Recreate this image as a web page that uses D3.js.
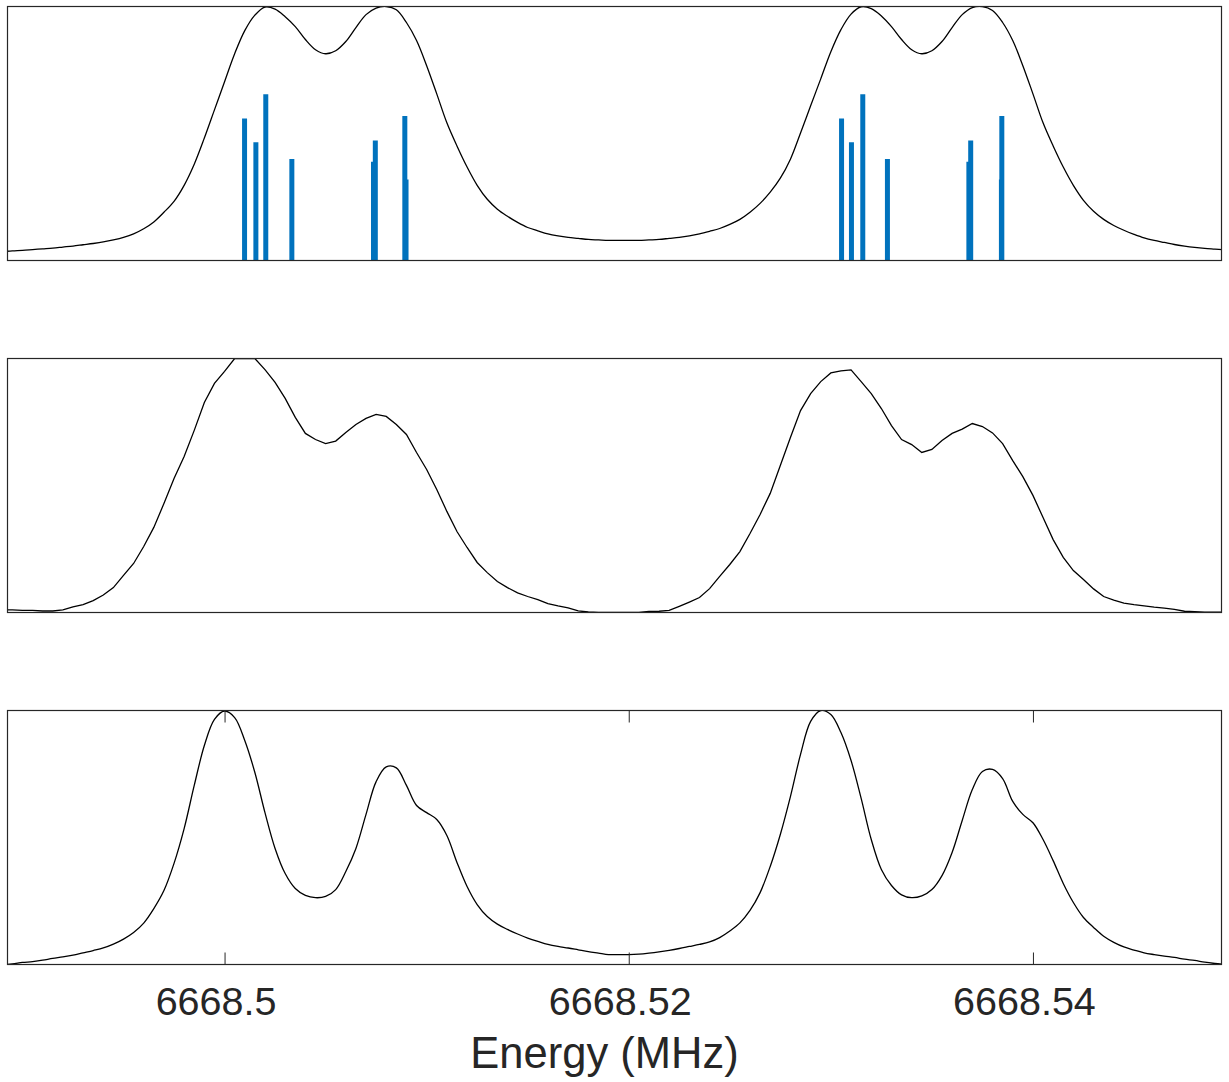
<!DOCTYPE html>
<html>
<head>
<meta charset="utf-8">
<script src="https://cdn.jsdelivr.net/npm/d3@7"></script>
<style>
  body { margin: 0; background: #fff; }
  text { font-family: "Liberation Sans", Arial, Helvetica, sans-serif; }
</style>
</head>
<body>
<svg id="chart" width="1229" height="1082"></svg>
<script>
// frequency samples (MHz), shared by the three spectra
var freqMHz = [
  6668.4890, 6668.4895, 6668.4900, 6668.4905, 6668.4910, 6668.4915, 6668.4920, 6668.4925, 6668.4930, 6668.4935,
  6668.4940, 6668.4945, 6668.4950, 6668.4955, 6668.4960, 6668.4965, 6668.4970, 6668.4975, 6668.4980, 6668.4985,
  6668.4990, 6668.4995, 6668.5000, 6668.5005, 6668.5010, 6668.5015, 6668.5020, 6668.5025, 6668.5030, 6668.5035,
  6668.5040, 6668.5045, 6668.5050, 6668.5055, 6668.5060, 6668.5065, 6668.5070, 6668.5075, 6668.5080, 6668.5085,
  6668.5090, 6668.5095, 6668.5100, 6668.5105, 6668.5110, 6668.5115, 6668.5120, 6668.5125, 6668.5130, 6668.5135,
  6668.5140, 6668.5145, 6668.5150, 6668.5155, 6668.5160, 6668.5165, 6668.5170, 6668.5175, 6668.5180, 6668.5185,
  6668.5190, 6668.5195, 6668.5200, 6668.5205, 6668.5210, 6668.5215, 6668.5220, 6668.5225, 6668.5230, 6668.5235,
  6668.5240, 6668.5245, 6668.5250, 6668.5255, 6668.5260, 6668.5265, 6668.5270, 6668.5275, 6668.5280, 6668.5285,
  6668.5290, 6668.5295, 6668.5300, 6668.5305, 6668.5310, 6668.5315, 6668.5320, 6668.5325, 6668.5330, 6668.5335,
  6668.5340, 6668.5345, 6668.5350, 6668.5355, 6668.5360, 6668.5365, 6668.5370, 6668.5375, 6668.5380, 6668.5385,
  6668.5390, 6668.5395, 6668.5400, 6668.5405, 6668.5410, 6668.5415, 6668.5420, 6668.5425, 6668.5430, 6668.5435,
  6668.5440, 6668.5445, 6668.5450, 6668.5455, 6668.5460, 6668.5465, 6668.5470, 6668.5475, 6668.5480, 6668.5485,
  6668.5490, 6668.5495
];

// top panel: modelled profile (relative intensity, %)
var modelSpectrum = [
  3.5, 3.8, 4.0, 4.3, 4.6, 4.9, 5.3, 5.7, 6.2, 6.7,
  7.3, 8.1, 9.1, 10.5, 12.5, 15.2, 19.0, 23.3, 29.6, 37.9,
  48.2, 59.3, 70.4, 81.4, 90.5, 96.6, 99.8, 99.0, 96.0, 92.1,
  87.0, 83.0, 81.4, 82.6, 86.2, 91.7, 96.8, 99.4, 100, 98.7,
  93.7, 86.6, 76.7, 65.6, 54.2, 45.1, 36.8, 29.6, 24.1, 20.2,
  17.4, 15.0, 13.0, 11.7, 10.5, 9.7, 9.1, 8.7, 8.3, 8.1,
  7.9, 7.9, 7.9, 7.9, 8.1, 8.3, 8.7, 9.1, 9.7, 10.5,
  11.5, 12.6, 14.2, 16.2, 19.0, 22.5, 26.9, 32.4, 39.9, 50.2,
  60.9, 71.5, 82.2, 90.9, 97.0, 99.9, 99.2, 96.3, 92.1, 87.0,
  83.0, 81.4, 82.6, 86.2, 91.7, 96.8, 99.6, 100, 98.4, 93.7,
  86.6, 76.7, 65.6, 54.2, 45.1, 36.8, 29.6, 23.7, 19.4, 16.2,
  13.8, 11.9, 10.3, 8.9, 7.9, 7.1, 6.3, 5.7, 5.2, 4.8,
  4.5, 4.2
];

// middle panel: measured profile
var measuredSpectrum = [
  1.0, 1.0, 0.8, 0.8, 0.6, 0.6, 1.0, 2.2, 3.1, 4.7,
  6.9, 9.8, 14.6, 19.3, 26.0, 33.5, 42.9, 52.8, 61.4, 71.7,
  82.7, 90.2, 94.9, 100, 100, 100, 95.6, 90.6, 84.3, 76.8,
  70.5, 68.1, 66.5, 67.5, 70.9, 74.0, 76.4, 78.0, 77.2, 74.0,
  70.1, 63.0, 56.3, 48.4, 39.8, 31.9, 25.6, 19.7, 15.7, 12.2,
  9.8, 7.7, 6.3, 5.1, 3.5, 2.6, 1.8, 0.6, 0.2, 0.0,
  0.0, 0.0, 0.0, 0.0, 0.4, 0.5, 0.8, 2.4, 4.1, 5.9,
  9.4, 14.2, 18.9, 24.0, 31.1, 38.6, 46.9, 57.9, 68.9, 79.5,
  86.2, 90.9, 94.3, 95.1, 95.5, 90.9, 86.2, 80.3, 73.6, 68.1,
  66.1, 63.0, 64.2, 67.7, 70.5, 72.2, 74.4, 73.2, 70.7, 66.5,
  59.8, 53.5, 46.1, 37.4, 28.7, 21.7, 16.5, 13.0, 9.3, 6.3,
  4.9, 3.7, 3.1, 2.6, 2.1, 1.7, 1.2, 0.5, 0.3, 0.1,
  0.1, 0.1
];

// bottom panel: fitted profile
var fittedSpectrum = [
  0.0, 0.2, 0.8, 1.1, 1.7, 2.4, 3.0, 3.7, 4.6, 5.5,
  6.5, 8.0, 10.0, 12.6, 16.3, 22.0, 29.1, 39.8, 53.5, 70.5,
  86.2, 96.5, 99.8, 97.2, 88.2, 75.6, 59.8, 45.7, 35.8, 29.9,
  27.2, 26.3, 26.8, 29.5, 36.6, 45.7, 59.1, 72.0, 77.8, 77.4,
  70.5, 62.6, 59.8, 57.1, 50.8, 40.2, 30.7, 23.6, 18.9, 15.9,
  13.8, 12.0, 10.4, 9.1, 7.9, 7.1, 6.5, 5.8, 5.1, 4.5,
  3.9, 3.9, 3.9, 4.1, 4.5, 5.0, 5.6, 6.3, 7.1, 7.9,
  8.9, 10.6, 13.2, 16.4, 21.3, 28.3, 38.6, 51.2, 66.1, 82.7,
  95.7, 100, 98.4, 91.3, 80.3, 65.4, 49.2, 37.4, 31.1, 27.4,
  26.3, 27.0, 29.5, 35.0, 44.1, 56.7, 68.9, 76.0, 76.8, 73.2,
  64.2, 59.1, 55.8, 49.2, 40.9, 31.9, 24.4, 18.5, 14.6, 11.1,
  8.7, 6.9, 5.7, 4.6, 3.9, 3.3, 2.8, 2.1, 1.6, 0.9,
  0.4, 0.0
];

// hyperfine components (stick spectrum in the top panel)
var stickFreq = [
  6668.50099, 6668.50155, 6668.50204, 6668.50333, 6668.50737, 6668.50746, 6668.50892, 6668.50898,
  6668.53053, 6668.53102, 6668.53158, 6668.53280, 6668.53683, 6668.53692, 6668.53846, 6668.53844
];
var stickHeight = [
  55.9, 46.6, 65.5, 40.0, 38.9, 47.2, 56.9, 31.9,
  55.9, 46.6, 65.5, 40.0, 38.9, 47.2, 56.9, 31.9
];

var tickValues = [6668.5, 6668.52, 6668.54];
var tickLabels = ["6668.5", "6668.52", "6668.54"];
var xLabel = "Energy (MHz)";
var xDomain = [6668.48926, 6668.54933];

main();

function main() {
    var svg = d3.select("#chart");
    var left = 7.5, right = 1221.5, panelH = 254;
    var panelTops = [6.5, 358.5, 710.5];
    var axisColor = "#262626";

    var x = d3.scaleLinear().domain(xDomain).range([left, right]);

    var panels = [
        { values: modelSpectrum, curve: d3.curveCatmullRom.alpha(0.5) },
        { values: measuredSpectrum, curve: d3.curveLinear },
        { values: fittedSpectrum, curve: d3.curveCatmullRom.alpha(0.5) }
    ];

    panels.forEach(function(p, i) {
        var top = panelTops[i];
        var y = d3.scaleLinear().domain([0, 100]).range([top + panelH, top]);
        var g = svg.append("g");

        g.append("clipPath").attr("id", "clip" + i)
            .append("rect")
            .attr("x", left).attr("y", top)
            .attr("width", right - left).attr("height", panelH);

        var plot = g.append("g").attr("clip-path", "url(#clip" + i + ")");

        //sticks only in the top panel
        if (i === 0) {
            plot.selectAll("line.stick")
                .data(stickFreq)
                .enter().append("line")
                .attr("class", "stick")
                .attr("x1", function(d) { return x(d); })
                .attr("x2", function(d) { return x(d); })
                .attr("y1", y(0))
                .attr("y2", function(d, j) { return y(stickHeight[j]); })
                .attr("stroke", "#0072BD")
                .attr("stroke-width", 5);
        }

        var line = d3.line()
            .x(function(d, j) { return x(freqMHz[j]); })
            .y(function(d) { return y(d); })
            .curve(p.curve);

        plot.append("path")
            .datum(p.values)
            .attr("d", line)
            .attr("fill", "none")
            .attr("stroke", "#000")
            .attr("stroke-width", 1.3);

        // ticks only on the bottom panel
        if (i === 2) {
            var bottomAxis = d3.axisBottom(x)
                .tickValues(tickValues)
                .tickFormat(function(d, j) { return tickLabels[j]; })
                .tickSizeInner(-12)
                .tickSizeOuter(0)
                .tickPadding(22);
            var ga = g.append("g")
                .attr("transform", "translate(0," + (top + panelH) + ")")
                .call(bottomAxis);
            ga.select(".domain").remove();
            ga.selectAll("line").attr("stroke", axisColor);
            ga.selectAll("text")
                .attr("fill", axisColor)
                .attr("dx", -9)
                .style("font-size", "39.5px");

            var topAxis = d3.axisTop(x)
                .tickValues(tickValues)
                .tickFormat("")
                .tickSizeInner(-12)
                .tickSizeOuter(0);
            var gt = g.append("g")
                .attr("transform", "translate(0," + top + ")")
                .call(topAxis);
            gt.select(".domain").remove();
            gt.selectAll("line").attr("stroke", axisColor);
        }

        g.append("rect")
            .attr("x", left).attr("y", top)
            .attr("width", right - left).attr("height", panelH)
            .attr("fill", "none")
            .attr("stroke", axisColor)
            .attr("stroke-width", 1.2);
    });

    svg.append("text")
        .attr("x", (left + right) / 2 - 10)
        .attr("y", 1068)
        .attr("text-anchor", "middle")
        .attr("fill", axisColor)
        .style("font-size", "43.5px")
        .text(xLabel);
}
</script>
</body>
</html>
